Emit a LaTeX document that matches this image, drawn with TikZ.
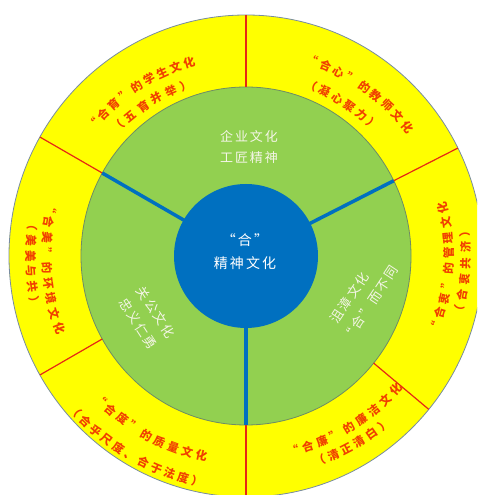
\documentclass[tikz,border=0pt]{standalone}
\usepackage{fontspec}
\usetikzlibrary{shapes.geometric}
\newfontfamily\cjk{Noto Sans CJK SC}
\newfontfamily\cjkg{Noto Sans CJK SC}[LetterSpace=15]
\definecolor{ringyellow}{RGB}{255,255,0}
\definecolor{ringgreen}{RGB}{146,208,80}
\definecolor{coreblue}{RGB}{0,112,192}
\definecolor{txtred}{RGB}{240,64,0}
\definecolor{divred}{RGB}{230,40,20}
\definecolor{rimgray}{RGB}{120,140,160}
\definecolor{greenrim}{RGB}{110,140,100}
\definecolor{paletxt}{RGB}{245,245,232}
\newcommand\arcline[6]{% #1 prefix, #2 radius, #3 centre angle, #4 step, #5 rotation offset, #6 glyphs
  \foreach \c [count=\i] in {#6} {\xdef\nchars{\i}}%
  \foreach \c [count=\i] in {#6} {%
    \pgfmathsetmacro\ang{#3+(\i-(\nchars+1)/2)*#4}%
    \node[arcchar, rotate=\ang+#5] (#1\i) at (\ang:#2) {\c};
  }}
\begin{document}
\begin{tikzpicture}[x=1pt,y=1pt,
  outerring/.style={ellipse, draw=rimgray, line width=0.8pt, fill=ringyellow,
    minimum width=474pt, minimum height=482pt, inner sep=0pt, outer sep=0pt},
  innerring/.style={ellipse, draw=greenrim, line width=0.8pt, fill=ringgreen,
    minimum width=330pt, minimum height=338pt, inner sep=0pt, outer sep=0pt},
  corenode/.style={circle, fill=coreblue, minimum size=144pt, inner sep=0pt, outer sep=0pt},
  divider/.style={draw=divred, line width=1.2pt},
  spoke/.style={draw=coreblue, line width=3.5pt, shorten <=-3pt},
  arcchar/.style={font=\cjk\bfseries\fontsize{11.5}{12}\selectfont, text=txtred,
    inner sep=0pt, text height=10pt, text depth=2pt},
  greentext/.style={font=\cjkg\fontsize{13}{21}\selectfont, text=paletxt, align=center, inner sep=0pt},
  coretext/.style={font=\cjkg\fontsize{14}{23}\selectfont, text=white, align=center, inner sep=0pt}]
\useasboundingbox (0,0) rectangle (477,495);
\clip (0,0) rectangle (477,495);
\begin{scope}[shift={(246,239)}]
  \node[outerring] (outer) at (0,0) {};
  \node[innerring] (green) at (0,0) {};
  \foreach \k in {90,150,210,270,320,27} {\draw[divider] (green.\k) -- (outer.\k);}
  \node[corenode] (core) at (0,0) {};
  \foreach \k in {150,27,270} {\draw[spoke] (core.\k) -- (green.\k);}
  \node[coretext] (coretxt) at (-1,4.5) {“合”\\精神文化};
  \node[greentext] (topgreen) at (3,109) {企业文化\\工匠精神};
  \node[greentext, rotate=-57] (leftgreen) at (-99,-62) {关公文化\\忠义仁勇};
  \node[greentext, rotate=56.5] (rightgreen) at (116,-42) {沮漳文化\hspace*{14pt}\\“合”而不同};
  % top-left segment
  \arcline{tlA}{201}{122.8}{-4.1}{-90}{“,合,育,”,的,学,生,文,化}
  \arcline{tlB}{181}{122}{-5.0}{-90}{（,五,育,并,举,）}
  % top-right segment
  \arcline{trA}{206}{55}{-4.1}{-90}{“,合,心,”,的,教,师,文,化}
  \arcline{trB}{182}{57.5}{-4.6}{-90}{（,凝,心,聚,力,）}
  % right segment
  \arcline{rA}{203}{-3.5}{4.3}{90}{“,合,衷,”,的,管,理,文,化}
  \arcline{rB}{220}{-4}{4.2}{90}{（,合,衷,共,济,）}
  % left segment
  \arcline{lA}{200}{183.5}{4.4}{90}{“,合,美,”,的,环,境,文,化}
  \arcline{lB}{216}{182}{4.1}{90}{（,美,美,与,共,）}
  % bottom-left segment
  \arcline{blA}{205}{241}{4.1}{90}{“,合,度,”,的,质,量,文,化}
  \arcline{blB}{231}{240}{3.55}{90}{（,合,乎,尺,度,、,合,于,法,度,）}
  % bottom-right segment
  \arcline{brA}{201}{301}{4.35}{90}{“,合,廉,”,的,廉,洁,文,化}
  \arcline{brB}{218}{299.5}{3.9}{90}{（,清,正,清,白,）}
\end{scope}
\end{tikzpicture}
\end{document}
